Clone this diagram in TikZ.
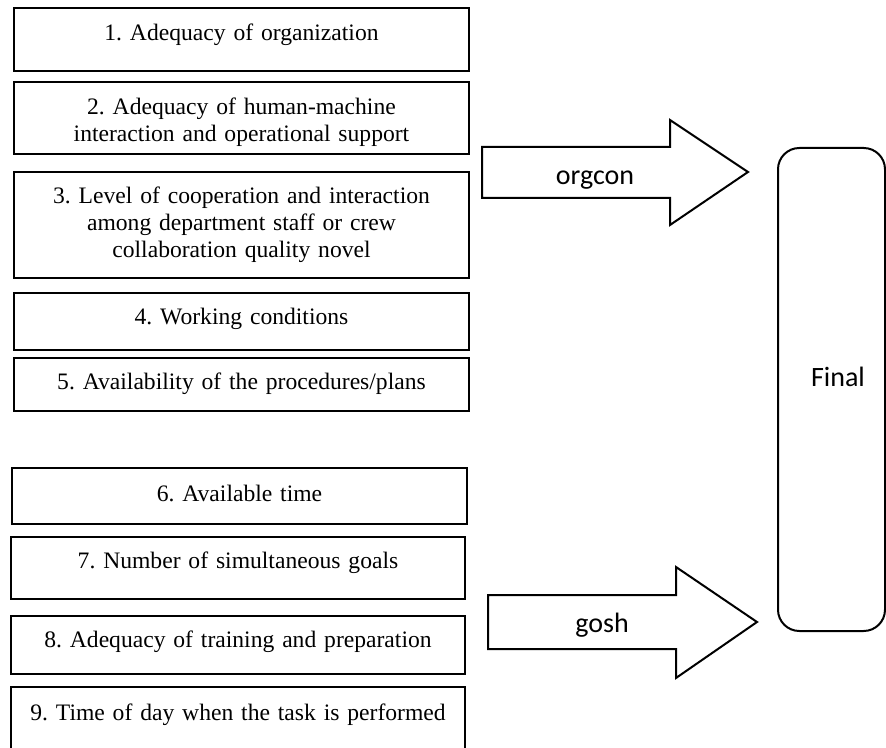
\documentclass[tikz,border=0pt]{standalone}
\usepackage{fontspec}
\setmainfont{Liberation Serif}
\newfontfamily\labelfont{Carlito}
\usetikzlibrary{shapes}
\frenchspacing

\begin{document}
\begin{tikzpicture}[x=0.75pt, y=-0.75pt,
  factor/.style={draw, line width=1.5pt, minimum width=341pt, inner sep=0pt},
  factext/.style={anchor=base, text width=335pt, align=center, inner sep=0pt, font=\fontsize{17.7}{20}\selectfont},
  blockarrow/.style={draw, line width=1.5pt, fill=white},
  arrowtext/.style={anchor=base, inner sep=0pt, font=\labelfont\fontsize{21}{25}\selectfont}]
\useasboundingbox (0,0) rectangle (886,748);
\node[factor, minimum height=47.25pt] (F1) at (241.5,39.5) {};
\node[factor, minimum height=54pt]    (F2) at (241.5,118) {};
\node[factor, minimum height=79.5pt]  (F3) at (241.5,225) {};
\node[factor, minimum height=42.75pt] (F4) at (241.5,321.5) {};
\node[factor, minimum height=39.75pt] (F5) at (241.5,384.5) {};
\node[factor, minimum height=42pt]    (F6) at (239.5,496) {};
\node[factor, minimum height=46.5pt]  (F7) at (238,568) {};
\node[factor, minimum height=43.5pt]  (F8) at (238,645) {};
\node[factor, minimum height=54.75pt] (F9) at (238,723.5) {};
\node[factext] (T1) at (241.5,41)  {1. Adequacy of organization};
\node[factext] (T2) at (241.5,115) {2. Adequacy of human-machine\\interaction and operational support};
\node[factext] (T3) at (241.5,204) {3. Level of cooperation and interaction\\among department staff or crew\\collaboration quality novel};
\node[factext] (T4) at (241.5,325) {4. Working conditions};
\node[factext] (T5) at (241.5,390) {5. Availability of the procedures/plans};
\node[factext] (T6) at (239.5,502) {6. Available time};
\node[factext] (T7) at (238,569)   {7. Number of simultaneous goals};
\node[factext] (T8) at (238,647)   {8. Adequacy of training and preparation};
\node[factext] (T9) at (238,720)   {9. Time of day when the task is performed};
\node[draw, line width=1.5pt, rounded corners=16pt, minimum width=80.25pt, minimum height=362.25pt] (FIN) at (831.5,389.5) {};
\node[arrowtext] (FINT) at (838,387) {Final};
\draw[blockarrow] (482,147) -- (670,147) -- (670,120) -- (748,172) -- (670,225) -- (670,198) -- (482,198) -- cycle;
\draw[blockarrow] (488,595) -- (676,595) -- (676,567) -- (757,622) -- (676,678) -- (676,649) -- (488,649) -- cycle;
\node[arrowtext] (A1) at (595,185) {orgcon};
\node[arrowtext] (A2) at (602,633) {gosh};
\end{tikzpicture}
\end{document}
